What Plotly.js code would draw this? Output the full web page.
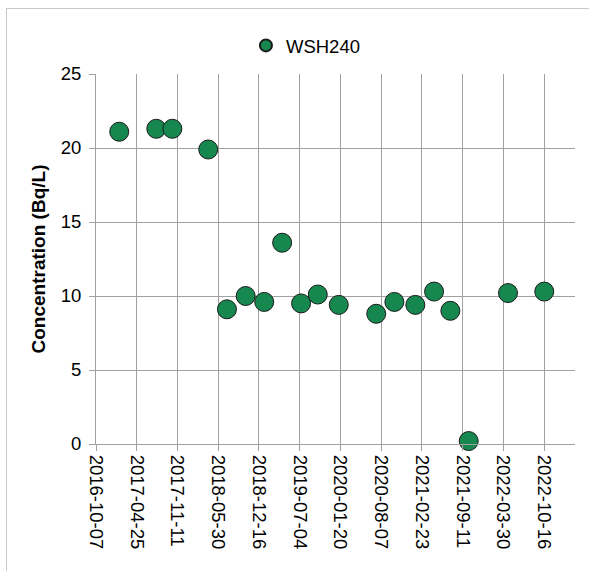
<!DOCTYPE html>
<html>
<head>
<meta charset="utf-8">
<script src="https://cdn.plot.ly/plotly-3.0.1.min.js"></script>
<style>
  html, body { margin: 0; padding: 0; background: #fff; }
  body { width: 589px; height: 571px; position: relative; overflow: hidden; }
  #frame { position: absolute; left: 6px; top: 8px; width: 700px; height: 700px;
           border-left: 1px solid #c8c8c8; border-top: 1px solid #c8c8c8; }
  #chart { position: absolute; left: 0; top: 0; width: 589px; height: 571px; }
</style>
</head>
<body>
<div id="frame"></div>
<div id="chart"></div>
<script>
// Sample dates and concentrations (Bq/L) for WSH240
const sampleDates = [
  '2017-01-29', '2017-07-30', '2017-10-17', '2018-04-11', '2018-07-12',
  '2018-10-12', '2019-01-11', '2019-04-09', '2019-07-11', '2019-10-01',
  '2020-01-12', '2020-07-14', '2020-10-11', '2021-01-22', '2021-04-24',
  '2021-07-13', '2021-10-11', '2022-04-22', '2022-10-17'
];
const concentrations = [
  21.1, 21.3, 21.3, 19.9, 9.1,
  10.0, 9.6, 13.6, 9.5, 10.1,
  9.4, 8.8, 9.6, 9.4, 10.3,
  9.0, 0.2, 10.2, 10.3
];
const seriesName = 'WSH240';
const xTickDates = [
  '2016-10-07', '2017-04-25', '2017-11-11', '2018-05-30', '2018-12-16', '2019-07-04',
  '2020-01-20', '2020-08-07', '2021-02-23', '2021-09-11', '2022-03-30', '2022-10-16'
];
const xRange = ['2016-10-07', '2023-03-17'];
const yTicks = [0, 5, 10, 15, 20, 25];

const gridColor = '#a0a0a0';
const font = 'Liberation Sans, Arial, sans-serif';

const trace = {
  x: sampleDates,
  y: concentrations,
  name: seriesName,
  type: 'scatter',
  mode: 'markers',
  cliponaxis: false,
  marker: { size: 19, color: '#178750', line: { color: '#1a1a1a', width: 1 } },
  showlegend: true
};

const layout = {
  width: 589, height: 571,
  margin: { l: 96, r: 14, t: 74, b: 127 },
  paper_bgcolor: 'rgba(0,0,0,0)',
  plot_bgcolor: 'rgba(0,0,0,0)',
  font: { family: font, size: 18.5, color: '#000' },
  showlegend: true,
  legend: {
    orientation: 'h', x: 0.313, xanchor: 'left', y: 1.076, yanchor: 'middle',
    itemsizing: 'constant', font: { family: font, size: 18.5, color: '#000' },
    bgcolor: 'rgba(0,0,0,0)'
  },
  xaxis: {
    type: 'date',
    range: xRange,
    tickmode: 'array',
    tickvals: xTickDates,
    ticktext: xTickDates,
    tickangle: 90,
    ticks: 'outside', ticklen: 6, tickcolor: gridColor, tickwidth: 1,
    showgrid: true, gridcolor: gridColor, gridwidth: 1,
    showline: true, linecolor: gridColor, linewidth: 1,
    zeroline: false,
    tickfont: { family: font, size: 18.5, color: '#000' }
  },
  yaxis: {
    range: [0, 25],
    tickmode: 'array',
    tickvals: yTicks,
    ticks: 'outside', ticklen: 6, tickcolor: gridColor, tickwidth: 1,
    showgrid: true, gridcolor: gridColor, gridwidth: 1,
    showline: true, linecolor: gridColor, linewidth: 1,
    zeroline: false,
    ticklabelstandoff: 4,
    tickfont: { family: font, size: 18.5, color: '#000' },
    title: { text: '<b>Concentration (Bq/L)</b>', font: { family: font, size: 19, color: '#000' }, standoff: 10 }
  }
};

Plotly.newPlot('chart', [trace], layout, { staticPlot: true, displayModeBar: false });
</script>
</body>
</html>
